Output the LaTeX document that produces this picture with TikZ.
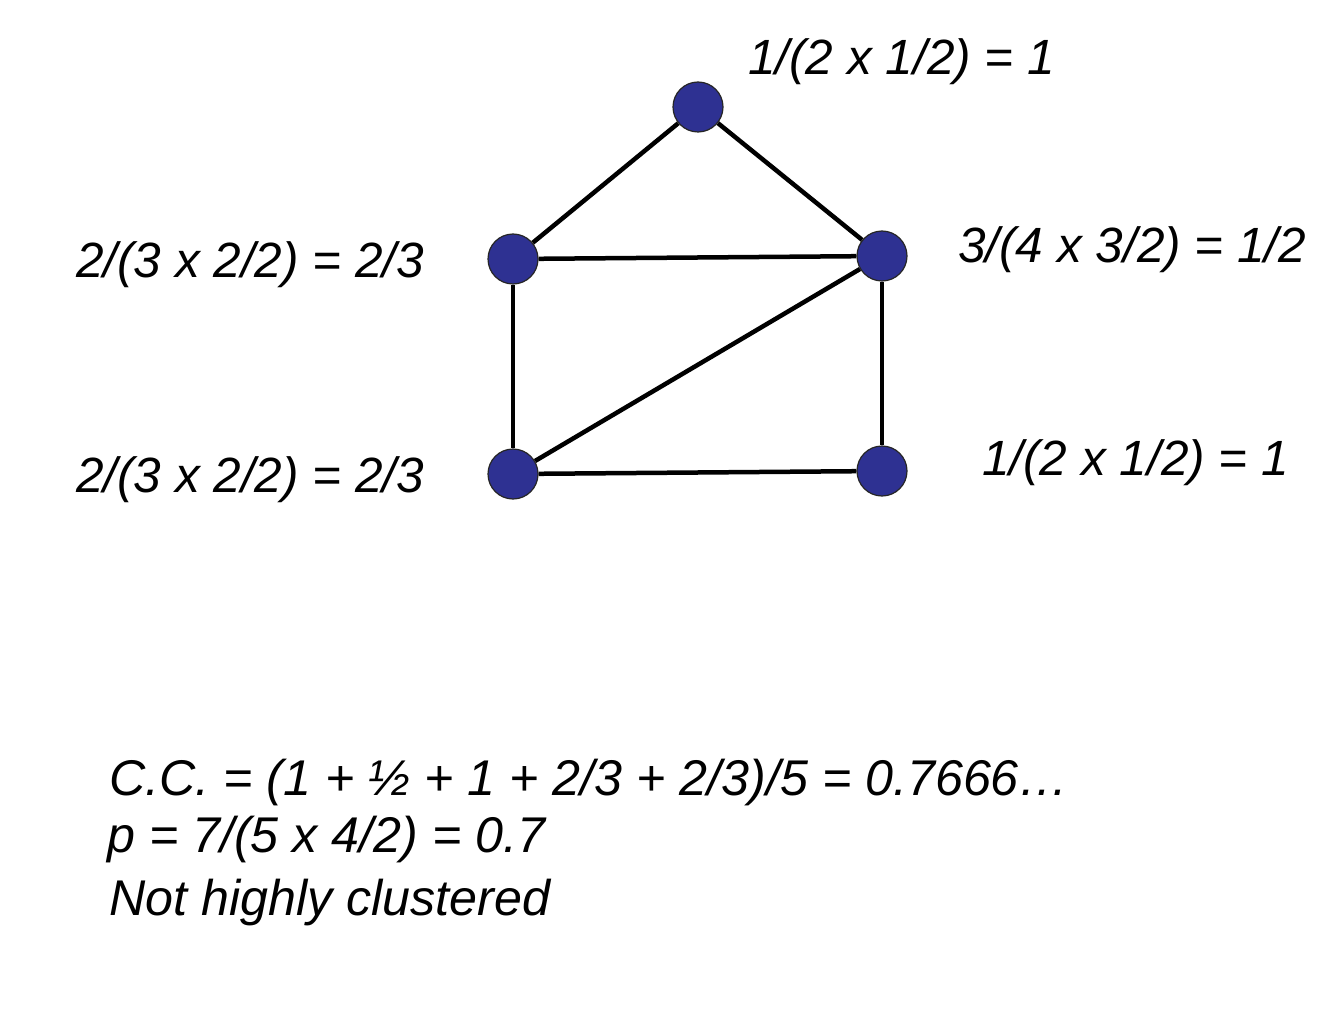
\documentclass[tikz,border=0pt]{standalone}
\usepackage{fontspec}
\setmainfont{Liberation Sans}
\begin{document}
\begin{tikzpicture}[x=1pt,y=-1pt,
  vert/.style={circle,draw=black!85,line width=1.2pt,fill={rgb,255:red,46;green,49;blue,146},minimum size=50pt,inner sep=0pt},
  edge/.style={line width=4.5pt,black},
  lab/.style={anchor=base west,inner sep=0pt,font=\fontsize{49.5}{58}\selectfont\itshape},
  note/.style={anchor=base west,inner sep=0pt,font=\fontsize{50.2}{59}\selectfont\itshape}]
\useasboundingbox (0,0) rectangle (1340,1016);
\node[vert] (T) at (698,107) {};
\node[vert] (L) at (513,259) {};
\node[vert] (R) at (882,256) {};
\node[vert] (BL) at (513,474) {};
\node[vert] (BR) at (882,471) {};
\draw[edge] (T) -- (L);
\draw[edge] (T) -- (R);
\draw[edge] (L) -- (R);
\draw[edge] (L) -- (BL);
\draw[edge] (R) -- (BL);
\draw[edge] (R) -- (BR);
\draw[edge] (BL) -- (BR);
\node[lab] (tT) at (748,75) {1/(2 x 1/2) = 1};
\node[lab] (tL) at (76,277) {2/(3 x 2/2) = 2/3};
\node[lab] (tR) at (958,262) {3/(4 x 3/2) = 1/2};
\node[lab] (tBL) at (76,492) {2/(3 x 2/2) = 2/3};
\node[lab] (tBR) at (982,475) {1/(2 x 1/2) = 1};
\node[note] (n1) at (109,795) {C.C. = (1 + ½ + 1 + 2/3 + 2/3)/5 = 0.7666…};
\node[note] (n2) at (107,852) {p = 7/(5 x 4/2) = 0.7};
\node[note] (n3) at (109,915) {Not highly clustered};
\end{tikzpicture}
\end{document}
